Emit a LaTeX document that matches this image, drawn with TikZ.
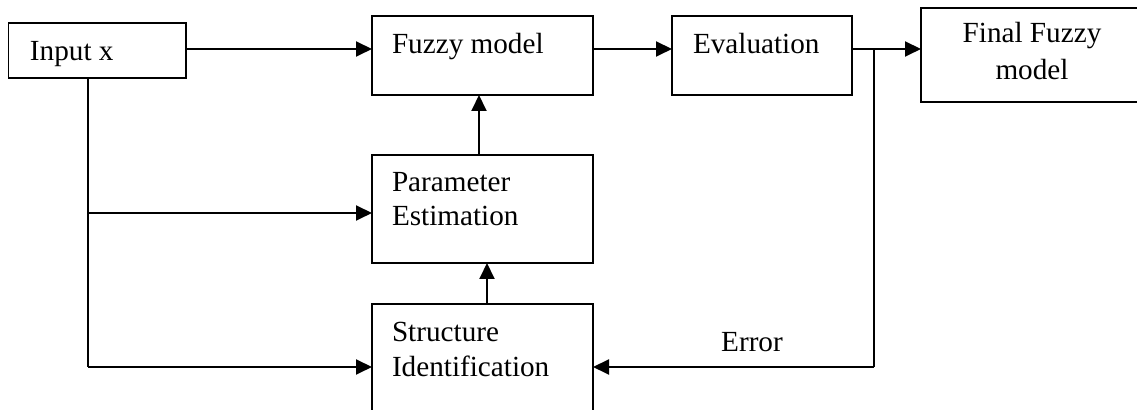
\documentclass[tikz,border=0pt]{standalone}
\usepackage{fontspec}
\setmainfont{Liberation Serif}
\usetikzlibrary{arrows.meta}
\begin{document}
\begin{tikzpicture}[x=0.5pt,y=-0.5pt,
  blk/.style={draw, line width=0.7pt, rectangle, inner sep=0pt, outer sep=0pt},
  lbl/.style={inner sep=0pt, outer sep=0pt, anchor=base west,
              font=\fontsize{14.6pt}{17pt}\selectfont},
  lblc/.style={lbl, anchor=base},
  conn/.style={line width=0.95pt},
  flow/.style={conn, -{Triangle[length=8pt,width=7.5pt]}}]
\useasboundingbox (0,0) rectangle (1137,410);
\clip (0,0) rectangle (1137,410);

% blocks
\node[blk, minimum width=88.75pt, minimum height=27.5pt] (inp)   at (97.25,50.5) {};
\node[blk, minimum width=110.5pt, minimum height=39.5pt] (fm)    at (482.5,55.5) {};
\node[blk, minimum width=90pt,    minimum height=39.5pt] (ev)    at (762,55.5) {};
\node[blk, minimum width=112pt,   minimum height=47pt]   (fin)   at (1033,55) {};
\node[blk, minimum width=110.5pt, minimum height=54pt]   (par)   at (482.5,209) {};
\node[blk, minimum width=110.5pt, minimum height=61pt]   (str)   at (482.5,365) {};

% labels
\node[lbl] (tin)  at (30,61)   {Input x};
\node[lbl] (tfm)  at (392,54)  {Fuzzy model};
\node[lbl] (tev)  at (693,54)  {Evaluation};
\node[lblc] (tfa) at (1032,43) {Final Fuzzy};
\node[lblc] (tfb) at (1032,80) {model};
\node[lbl] (tpa)  at (392,192) {Parameter};
\node[lbl] (tpb)  at (392,226) {Estimation};
\node[lbl] (tsa)  at (392,342) {Structure};
\node[lbl] (tsb)  at (392,377) {Identification};
\node[lblc] (ter) at (752,352) {Error};

% routing points
\coordinate (row)  at (0,49);
\coordinate (tap)  at (874,49);
\coordinate (ret)  at (874,367);
\coordinate (drop) at (88,78);
\coordinate (bpar) at (88,213);
\coordinate (bstr) at (88,367);
\coordinate (upa)  at (479,0);
\coordinate (upb)  at (487,0);

% forward path
\draw[flow] (inp.east |- row) -- (fm.west |- row);
\draw[flow] (fm.east |- row) -- (ev.west |- row);
\draw[flow] (ev.east |- row) -- (fin.west |- row);

% input distribution
\draw[conn] (drop) -- (bstr);
\draw[flow] (bpar) -- (par.west |- bpar);
\draw[flow] (bstr) -- (str.west |- bstr);

% identification chain
\draw[flow] (upb |- str.north) -- (upb |- par.south);
\draw[flow] (upa |- par.north) -- (upa |- fm.south);

% error feedback
\draw[conn] (tap) -- (ret);
\draw[flow] (ret) -- (str.east |- ret);
\end{tikzpicture}
\end{document}
